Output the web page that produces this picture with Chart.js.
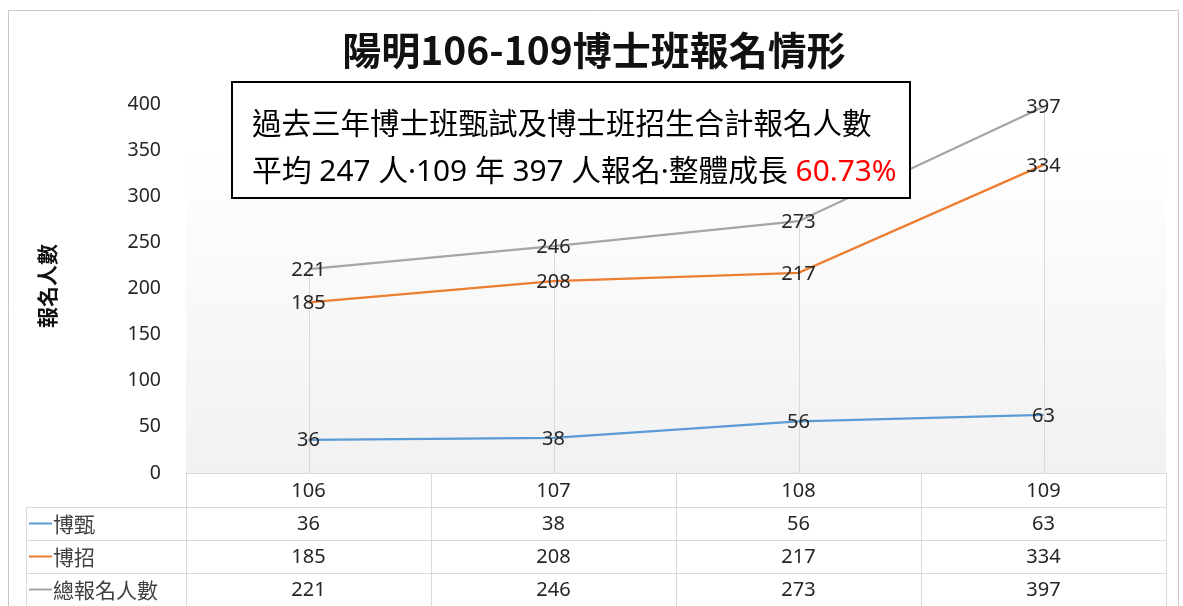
<!DOCTYPE html>
<html>
<head>
<meta charset="utf-8">
<script src="https://cdn.jsdelivr.net/npm/chart.js@4"></script>
<style>
  body { margin: 0; background: #fff; }
  #wrap { width: 1183px; height: 606px; }
</style>
</head>
<body>
<div id="wrap"><canvas id="c" width="1183" height="606"></canvas></div>
<script>
// --- data ---
var years = ['106', '107', '108', '109'];
var boZhen = [36, 38, 56, 63];        // 博甄
var boZhao = [185, 208, 217, 334];    // 博招
var total = [221, 246, 273, 397];     // 總報名人數
var seriesNames = ['博甄', '博招', '總報名人數'];
var seriesColors = ['#5b9bd5', '#ed7d31', '#a5a5a5'];
var yTicks = [0, 50, 100, 150, 200, 250, 300, 350, 400];

var chartTitle = '陽明106-109博士班報名情形';
var yTitle = '報名人數';
var noteLine1 = '過去三年博士班甄試及博士班招生合計報名人數';
var noteLine2 = '平均 247 人·109 年 397 人報名·整體成長 ';
var noteGrowth = '60.73%';

var FONT = '"Noto Sans", "Noto Sans CJK TC", sans-serif';
var CJK = '"Noto Sans CJK TC", "Noto Sans", sans-serif';

// background, frame, drop lines - drawn under the lines
var backPlugin = {
    id: 'backPlugin',
    beforeDatasetsDraw: function(chart) {
        var ctx = chart.ctx, a = chart.chartArea;
        var x = chart.scales.x, y = chart.scales.y;
        ctx.save();
        var top = a.top + 42;
        var g = ctx.createLinearGradient(0, top, 0, a.bottom);
        g.addColorStop(0, '#ffffff');
        g.addColorStop(1, '#f1f1f1');
        ctx.fillStyle = g;
        ctx.fillRect(a.left, top, a.right - a.left, a.bottom - top);

        // drop lines from highest point down to axis
        ctx.strokeStyle = '#d9d9d9';
        ctx.lineWidth = 1;
        for (var i = 0; i < years.length; i++) {
            var hi = Math.max(boZhen[i], boZhao[i], total[i]);
            var px = Math.round(x.getPixelForValue(i)) + 0.5;
            ctx.beginPath();
            ctx.moveTo(px, y.getPixelForValue(hi));
            ctx.lineTo(px, a.bottom);
            ctx.stroke();
        }
        ctx.restore();
    },
    afterDraw: function(chart) {
        var ctx = chart.ctx, a = chart.chartArea;
        var x = chart.scales.x, y = chart.scales.y;
        var sets = [boZhen, boZhao, total];
        ctx.save();

        // outer frame
        ctx.strokeStyle = '#c8c8c8';
        ctx.lineWidth = 1;
        ctx.beginPath();
        ctx.moveTo(8.5, 606);
        ctx.lineTo(8.5, 10.5);
        ctx.lineTo(1178.5, 10.5);
        ctx.lineTo(1178.5, 606);
        ctx.stroke();

        // data labels centred on points
        ctx.fillStyle = '#262626';
        ctx.font = '20px ' + FONT;
        ctx.textAlign = 'center';
        ctx.textBaseline = 'middle';
        for (var s = 0; s < sets.length; s++) {
            for (var i = 0; i < years.length; i++) {
                ctx.fillText(String(sets[s][i]), x.getPixelForValue(i), y.getPixelForValue(sets[s][i]) + 1);
            }
        }

        // title
        ctx.font = 'bold 39px ' + CJK;
        ctx.fillStyle = '#111111';
        ctx.fillText(chartTitle, 594, 50);

        // y axis title
        ctx.save();
        ctx.translate(47, 286);
        ctx.rotate(-Math.PI / 2);
        ctx.font = 'bold 21px ' + CJK;
        ctx.fillText(yTitle, 0, 0);
        ctx.restore();

        // data table
        var cw = (a.right - a.left) / years.length;
        var rows = [a.bottom, a.bottom + 34, a.bottom + 67, a.bottom + 100, a.bottom + 133];
        var leftCol = 26;
        ctx.strokeStyle = '#d9d9d9';
        ctx.lineWidth = 1;
        ctx.beginPath();
        ctx.moveTo(a.left, rows[0] + 0.5); ctx.lineTo(a.right, rows[0] + 0.5);
        for (var r = 1; r < rows.length - 1; r++) {
            ctx.moveTo(leftCol, rows[r] + 0.5); ctx.lineTo(a.right, rows[r] + 0.5);
        }
        for (var c = 0; c <= years.length; c++) {
            var cx = Math.round(a.left + c * cw) + 0.5;
            ctx.moveTo(cx, rows[0]); ctx.lineTo(cx, rows[4]);
        }
        ctx.moveTo(leftCol + 0.5, rows[1]); ctx.lineTo(leftCol + 0.5, rows[4]);
        ctx.stroke();

        ctx.font = '20px ' + FONT;
        ctx.fillStyle = '#262626';
        ctx.textAlign = 'center';
        for (var i = 0; i < years.length; i++) {
            var mx = x.getPixelForValue(i);
            ctx.fillText(years[i], mx, (rows[0] + rows[1]) / 2 + 1);
            for (var s = 0; s < sets.length; s++) {
                ctx.fillText(String(sets[s][i]), mx, (rows[s + 1] + rows[s + 2]) / 2 + 1);
            }
        }
        ctx.textAlign = 'left';
        for (var s = 0; s < sets.length; s++) {
            var my = (rows[s + 1] + rows[s + 2]) / 2;
            ctx.strokeStyle = seriesColors[s];
            ctx.lineWidth = 2;
            ctx.beginPath();
            ctx.moveTo(29, my); ctx.lineTo(52, my);
            ctx.stroke();
            ctx.fillStyle = '#404040';
            ctx.font = '21px ' + CJK;
            ctx.fillText(seriesNames[s], 53, my + 1);
        }

        // note box
        ctx.fillStyle = '#ffffff';
        ctx.fillRect(232, 82, 678, 116);
        ctx.strokeStyle = '#000000';
        ctx.lineWidth = 2;
        ctx.strokeRect(232, 82, 678, 116);
        ctx.fillStyle = '#000000';
        ctx.font = '29.5px ' + CJK;
        ctx.textAlign = 'left';
        ctx.fillText(noteLine1, 252, 123);
        ctx.font = '29.8px ' + FONT;
        ctx.fillText(noteLine2, 252, 173);
        var w2 = ctx.measureText(noteLine2).width;
        ctx.fillStyle = '#ff0000';
        ctx.fillText(noteGrowth, 252 + w2, 173);
        ctx.restore();
    }
};

new Chart(document.getElementById('c'), {
    type: 'line',
    data: {
        labels: years,
        datasets: [
            { label: seriesNames[0], data: boZhen, borderColor: seriesColors[0], borderWidth: 2.25, pointRadius: 0, tension: 0 },
            { label: seriesNames[1], data: boZhao, borderColor: seriesColors[1], borderWidth: 2.25, pointRadius: 0, tension: 0 },
            { label: seriesNames[2], data: total, borderColor: seriesColors[2], borderWidth: 2.25, pointRadius: 0, tension: 0 }
        ]
    },
    options: {
        responsive: false,
        animation: false,
        layout: { padding: { top: 104, left: 60, right: 17, bottom: 133 } },
        plugins: { legend: { display: false }, title: { display: false }, tooltip: { enabled: false } },
        scales: {
            x: {
                offset: true,
                grid: { display: false },
                border: { display: false },
                ticks: { display: false },
                afterFit: function(scale) { scale.height = 0; }
            },
            y: {
                min: 0,
                max: 400,
                grid: { display: false },
                border: { display: false },
                afterBuildTicks: function(scale) {
                    scale.ticks = yTicks.map(function(v) { return { value: v }; });
                },
                ticks: { padding: 17, color: '#262626', font: { size: 19.5, family: FONT } },
                afterFit: function(scale) { scale.width = 126; }
            }
        }
    },
    plugins: [backPlugin]
});
</script>
</body>
</html>
